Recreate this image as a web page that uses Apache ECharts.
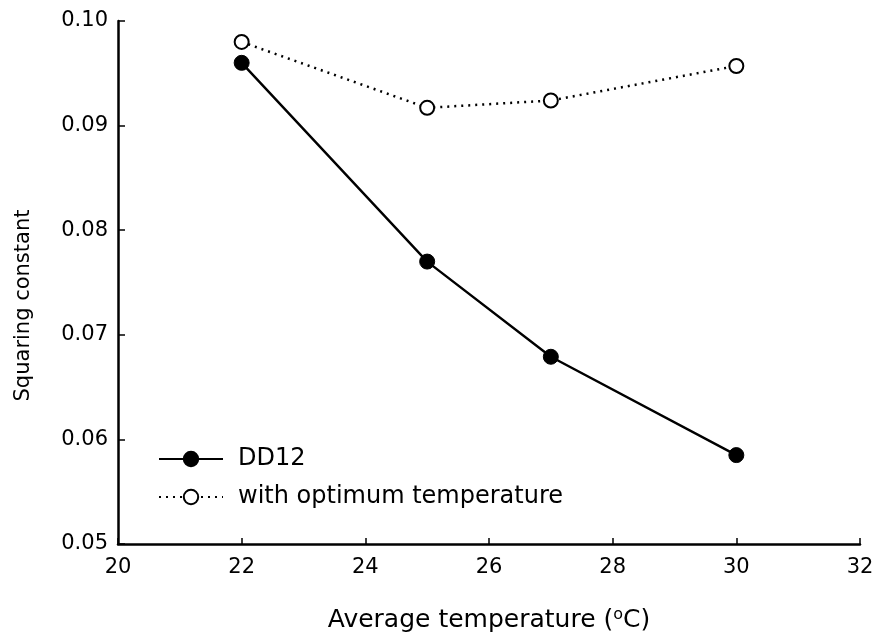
<!DOCTYPE html>
<html><head><meta charset="utf-8">
<script src="https://cdn.jsdelivr.net/npm/echarts@6/dist/echarts.min.js"></script>
<style>html,body{margin:0;padding:0;background:#fff}#c{width:877px;height:640px}</style>
</head><body><div id="c"></div>
<script>
var temps = [22, 25, 27, 30];
var dd12 = [0.0960, 0.0770, 0.0679, 0.0585];
var optimum = [0.0980, 0.0917, 0.0924, 0.0957];
var xTicks = [20, 22, 24, 26, 28, 30, 32];
var yTicks = [0.05, 0.06, 0.07, 0.08, 0.09, 0.10];

function pairs(xs, ys){ return xs.map(function(x,i){ return [x, ys[i]]; }); }
var font = '"DejaVu Sans", "Liberation Sans", Arial, sans-serif';
var chart = echarts.init(document.getElementById('c'));
chart.setOption({
  animation: false,
  backgroundColor: '#fff',
  grid: {left: 118, right: 17, top: 21, bottom: 96, containLabel: false},
  xAxis: {
    type: 'value', min: xTicks[0], max: xTicks[xTicks.length-1], interval: 2,
    axisLine: {lineStyle: {color: '#000', width: 2.5}},
    axisTick: {inside: true, length: 6, lineStyle: {color: '#000', width: 1.5}},
    axisLabel: {color: '#000', fontSize: 21, fontFamily: font, margin: 13},
    splitLine: {show: false},
    name: 'Average temperature ({s|o}C)',
    nameLocation: 'middle', nameGap: 63,
    nameTextStyle: {color: '#000', fontSize: 25, fontFamily: font,
      rich: {s: {fontSize: 16, verticalAlign: 'top', padding: [0,0,10,0], fontFamily: font, color:'#000'}}}
  },
  yAxis: {
    type: 'value', min: yTicks[0], max: yTicks[yTicks.length-1], interval: 0.01,
    axisLine: {show: true, lineStyle: {color: '#000', width: 2.5}},
    axisTick: {show: true, inside: true, length: 7, lineStyle: {color: '#000', width: 1.5}},
    axisLabel: {color: '#000', fontSize: 21, fontFamily: font, margin: 10,
      formatter: function(v){ return v.toFixed(2); }},
    splitLine: {show: false},
    name: 'Squaring constant', nameLocation: 'middle', nameGap: 84,
    nameTextStyle: {color: '#000', fontSize: 21, fontFamily: font, padding: [0, 46, 0, 0]}
  },
  legend: {
    left: 153, top: 441, orient: 'vertical', itemWidth: 64, itemHeight: 18, itemGap: 12,
    textStyle: {color: '#000', fontSize: 24, fontFamily: font, lineHeight: 26, padding: [0,0,0,10]},
    data: ['DD12', 'with optimum temperature']
  },
  series: [
    {name: 'DD12', type: 'line', data: pairs(temps, dd12),
     symbol: 'circle', symbolSize: 15,
     itemStyle: {color: '#000', borderColor: '#000', borderWidth: 1},
     lineStyle: {color: '#000', width: 2.4, type: 'solid'}},
    {name: 'with optimum temperature', type: 'line', data: pairs(temps, optimum),
     symbol: 'circle', symbolSize: 14,
     itemStyle: {color: '#fff', borderColor: '#000', borderWidth: 2},
     lineStyle: {color: '#000', width: 2.5, type: [2, 5]}}
  ]
});
</script></body></html>
